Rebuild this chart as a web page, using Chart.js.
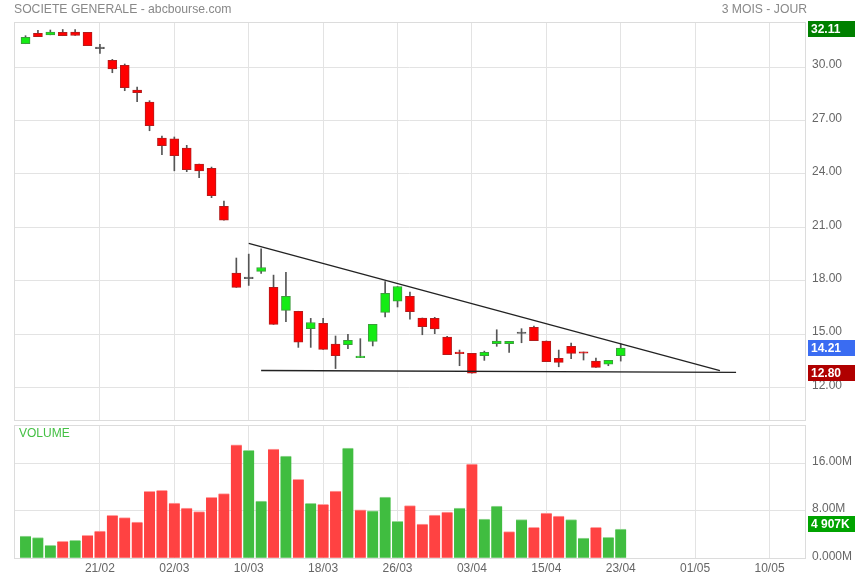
<!DOCTYPE html>
<html>
<head>
<meta charset="utf-8">
<script src="https://cdn.jsdelivr.net/npm/chart.js@4.4.1/dist/chart.umd.min.js"></script>
<style>
body { margin: 0; background: #fff; font-family: "Liberation Sans", Arial, sans-serif; }
#wrap { position: relative; width: 855px; height: 580px; overflow: hidden; }
.txt { position: absolute; font-size: 12px; color: #888; white-space: nowrap; }
#priceBox { position: absolute; left: 0; top: 0; width: 855px; height: 425px; }
#volBox { position: absolute; left: 0; top: 420px; width: 855px; height: 160px; }
</style>
</head>
<body>
<div id="wrap">
  <div id="priceBox"><canvas id="priceChart" width="855" height="425"></canvas></div>
  <div id="volBox"><canvas id="volChart" width="855" height="160"></canvas></div>
  <div class="txt" style="left:14px;top:2px;font-size:12.2px">SOCIETE GENERALE - abcbourse.com</div>
  <div class="txt" style="right:48px;top:2px;font-size:12.2px">3 MOIS - JOUR</div>
  <div class="txt" style="left:19px;top:426px;color:#44c044">VOLUME</div>
</div>
<script>
// cours journaliers (ouverture, plus haut, plus bas, cloture)
var opens  = [31.31, 31.89, 31.81, 31.95, 31.97, 31.95, 31.03, 30.38, 30.10, 28.71,
              28.03, 26.01, 25.96, 25.45, 24.55, 24.31, 22.17, 18.43, 18.11, 18.52,
              17.62, 16.33, 16.28, 15.30, 15.60, 14.43, 14.40, 13.67, 14.58, 16.22,
              16.84, 17.12, 15.90, 15.88, 14.83, 13.99, 13.91, 13.78, 14.46, 14.46,
              15.03, 15.38, 14.61, 13.63, 14.31, 13.99, 13.48, 13.31, 13.78];
var highs  = [31.76, 32.06, 32.08, 32.11, 32.10, 31.95, 31.28, 30.43, 30.17, 28.88,
              28.11, 26.12, 26.07, 25.60, 24.55, 24.38, 22.47, 19.27, 19.49, 19.78,
              18.31, 18.46, 16.28, 15.88, 15.88, 14.89, 14.98, 14.74, 15.54, 17.94,
              17.67, 17.36, 15.90, 15.94, 14.87, 14.10, 13.91, 14.04, 15.24, 14.59,
              15.30, 15.45, 14.61, 14.10, 14.49, 13.99, 13.65, 13.52, 14.45];
var lows   = [31.31, 31.70, 31.81, 31.76, 31.77, 31.20, 30.77, 29.68, 28.67, 28.05,
              26.42, 25.07, 24.17, 24.12, 23.78, 22.66, 21.39, 17.62, 17.73, 18.41,
              15.54, 15.69, 14.25, 14.25, 14.14, 13.06, 14.18, 13.67, 14.33, 15.96,
              16.52, 15.84, 14.96, 15.02, 13.84, 13.22, 12.80, 13.52, 14.31, 13.96,
              14.51, 14.63, 13.45, 13.16, 13.61, 13.54, 13.13, 13.22, 13.48];
var closes = [31.67, 31.70, 31.97, 31.76, 31.77, 31.20, 31.03, 29.90, 28.84, 28.56,
              26.70, 25.58, 25.02, 24.23, 24.17, 22.77, 21.39, 17.62, 18.11, 18.74,
              15.54, 17.12, 14.54, 15.65, 14.14, 13.78, 14.65, 13.76, 15.54, 17.28,
              17.67, 16.25, 15.41, 15.28, 13.84, 13.89, 12.80, 13.97, 14.61, 14.59,
              15.03, 14.63, 13.45, 13.41, 13.91, 13.92, 13.13, 13.52, 14.21];
// volumes en milliers de titres
var volumes = [3750, 3470, 2190, 2860, 3030, 3870, 4600, 7240, 6840, 6110,
               11280, 11450, 9310, 8470, 7850, 10270, 10880, 19120, 18180, 9650,
               18400, 17220, 13300, 9260, 9090, 11330, 18570, 8180, 8010, 10320,
               6230, 8860, 5770, 7290, 7790, 8470, 15870, 6620, 8800, 4480,
               6500, 5220, 7630, 7120, 6500, 3420, 5220, 3540, 4907];

var xTickPos = [6, 12, 18, 24, 30, 36, 42, 48, 54, 60];
var xTickLabels = ['21/02', '02/03', '10/03', '18/03', '26/03', '03/04', '15/04', '23/04', '01/05', '10/05'];
var priceTicks = [12, 15, 18, 21, 24, 27, 30];
var volTicks = [0, 8000, 16000];

// droites du triangle (indice de seance, cours)
var trendHigh = [[18, 20.09], [56, 12.94]];
var trendLow = [[19, 12.95], [57.3, 12.85]];

Chart.defaults.font.family = '"Liberation Sans", Arial, sans-serif';

var GRID = '#e3e3e3';

function bodyFill(i) {
    if (closes[i] > opens[i]) return '#14ec14';
    if (closes[i] < opens[i]) return '#ff0000';
    return '#555';
}
function bodyBorder(i) {
    if (closes[i] > opens[i]) return '#3c9c3c';
    if (closes[i] < opens[i]) return '#b41c1c';
    return '#555';
}
function volUp(i) {
    return i === 0 || closes[i] >= closes[i - 1];
}

function xAxis(showLabels) {
    return {
        type: 'linear',
        min: -0.93,
        max: 62.86,
        offset: false,
        grid: { color: GRID, drawTicks: false, offset: false },
        border: { display: false },
        afterBuildTicks: function (s) {
            s.ticks = xTickPos.map(function (v) { return { value: v }; });
        },
        ticks: {
            display: showLabels,
            padding: 3,
            color: '#666',
            font: { size: 12 },
            maxRotation: 0,
            autoSkip: false,
            callback: function (v) { return xTickLabels[xTickPos.indexOf(v)]; }
        },
        afterFit: function (s) {
            s.height = showLabels ? 21.7 : 0;
            s.paddingLeft = 0;
            s.paddingRight = 0;
        }
    };
}

function yAfterFit(s) {
    s.width = 50;
    s.paddingTop = 0;
    s.paddingBottom = 0;
}

var framePlugin = {
    id: 'frame',
    beforeDatasetsDraw: function (chart) {
        var a = chart.chartArea, c = chart.ctx;
        c.save();
        c.strokeStyle = '#dcdcdc';
        c.lineWidth = 1;
        c.strokeRect(Math.round(a.left) + 0.5, Math.round(a.top) + 0.5,
            Math.round(a.right - a.left), Math.round(a.bottom - a.top));
        c.restore();
    }
};

function badge(chart, value, text, bg, dy) {
    var c = chart.ctx;
    var y = chart.scales.y.getPixelForValue(value) + (dy || 0);
    var x = Math.round(chart.chartArea.right) + 3;
    c.save();
    c.fillStyle = bg;
    c.fillRect(x, Math.round(y - 8), chart.width - x, 16);
    c.fillStyle = '#fff';
    c.font = 'bold 12px "Liberation Sans", Arial, sans-serif';
    c.textBaseline = 'middle';
    c.textAlign = 'left';
    c.fillText(text, x + 3, y + 0.5);
    c.restore();
}

function linePoints(arr) {
    return arr.map(function (p) { return { x: p[0], y: p[1] }; });
}

var last = closes.length - 1;

var priceChart = new Chart(document.getElementById('priceChart'), {
    type: 'bar',
    data: {
        datasets: [{
            type: 'line',
            data: linePoints(trendHigh),
            borderColor: '#222',
            borderWidth: 1.3,
            pointRadius: 0
        }, {
            type: 'line',
            data: linePoints(trendLow),
            borderColor: '#222',
            borderWidth: 1.3,
            pointRadius: 0
        }, {
            data: opens.map(function (o, i) { return { x: i, y: [o, closes[i]] }; }),
            backgroundColor: opens.map(function (o, i) { return bodyFill(i); }),
            borderColor: opens.map(function (o, i) { return bodyBorder(i); }),
            borderWidth: 1,
            borderSkipped: false,
            barThickness: 9,
            minBarLength: 1.5,
            grouped: false
        }, {
            data: lows.map(function (l, i) { return { x: i, y: [l, highs[i]] }; }),
            backgroundColor: '#555',
            barThickness: 1,
            grouped: false
        }]
    },
    options: {
        responsive: false,
        animation: false,
        layout: { padding: { left: 14, top: 22, right: 0, bottom: 5 } },
        plugins: { legend: { display: false }, tooltip: { enabled: false } },
        scales: {
            x: xAxis(false),
            y: {
                position: 'right',
                min: 10.17,
                max: 32.53,
                grid: { color: GRID, drawTicks: false },
                border: { display: false },
                afterBuildTicks: function (s) {
                    s.ticks = priceTicks.map(function (v) { return { value: v }; });
                },
                ticks: {
                    padding: 7,
                    color: '#666',
                    font: { size: 12 },
                    labelOffset: -2,
                    callback: function (v) { return v.toFixed(2); }
                },
                afterFit: yAfterFit
            }
        }
    },
    plugins: [framePlugin, {
        id: 'priceBadges',
        afterDraw: function (chart) {
            var hi = Math.max.apply(null, highs);
            var lo = Math.min.apply(null, lows);
            badge(chart, hi, hi.toFixed(2), '#008000');
            badge(chart, closes[last], closes[last].toFixed(2), '#3a6cf2');
            badge(chart, lo, lo.toFixed(2), '#b00000');
        }
    }]
});

var volChart = new Chart(document.getElementById('volChart'), {
    type: 'bar',
    data: {
        datasets: [{
            data: volumes.map(function (v, i) { return { x: i, y: v }; }),
            backgroundColor: volumes.map(function (v, i) { return volUp(i) ? '#40bd40' : '#ff4242'; }),
            borderColor: volumes.map(function (v, i) { return volUp(i) ? '#9ad99a' : '#ffa0a0'; }),
            borderWidth: { top: 1, right: 0, bottom: 0, left: 0 },
            borderSkipped: false,
            barThickness: 11,
            grouped: false
        }]
    },
    options: {
        responsive: false,
        animation: false,
        layout: { padding: { left: 14, top: 5, right: 0, bottom: 0 } },
        plugins: { legend: { display: false }, tooltip: { enabled: false } },
        scales: {
            x: xAxis(true),
            y: {
                position: 'right',
                min: 0,
                max: 22440,
                grid: { color: GRID, drawTicks: false },
                border: { display: false },
                afterBuildTicks: function (s) {
                    s.ticks = volTicks.map(function (v) { return { value: v }; });
                },
                ticks: {
                    padding: 7,
                    color: '#666',
                    font: { size: 12 },
                    labelOffset: -2,
                    callback: function (v) { return v === 0 ? '0.000M' : (v / 1000).toFixed(2) + 'M'; }
                },
                afterFit: yAfterFit
            }
        }
    },
    plugins: [framePlugin, {
        id: 'volBadge',
        afterDraw: function (chart) {
            var v = volumes[last];
            var txt = String(v).replace(/\B(?=(\d{3})+(?!\d))/g, ' ') + 'K';
            badge(chart, v, txt, '#00a300', -5);
        }
    }]
});
</script>
</body>
</html>
